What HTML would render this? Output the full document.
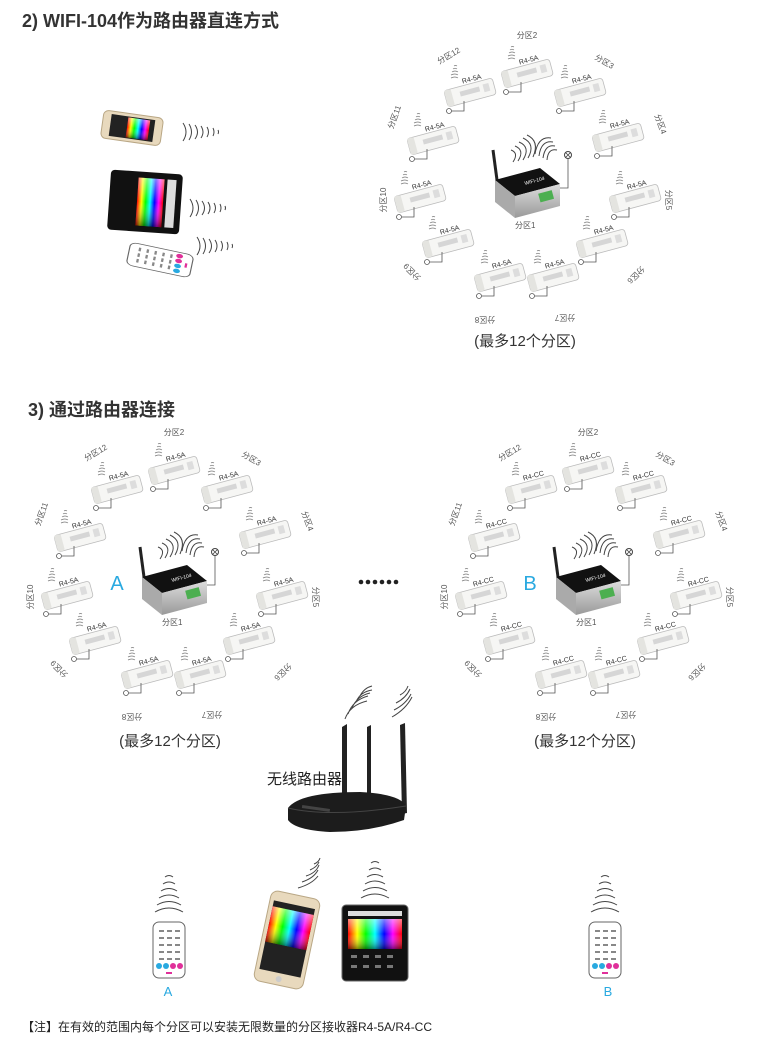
<!DOCTYPE html>
<html><head><meta charset="utf-8">
<style>
html,body{margin:0;padding:0;background:#fff;}
svg{display:block;}
text{font-family:"Liberation Sans","Noto Sans CJK SC",sans-serif;fill:#444;}
.t{font-size:8px;fill:#555;}
.m{font-size:7px;fill:#333;}
.w{fill:none;stroke:#444;stroke-width:1;}
</style></head><body>
<svg width="760" height="1044" viewBox="0 0 760 1044" xmlns="http://www.w3.org/2000/svg">
<defs>
<linearGradient id="hue" x1="0" y1="0" x2="1" y2="0">
<stop offset="0" stop-color="#f00"/><stop offset=".17" stop-color="#ff0"/><stop offset=".33" stop-color="#0f0"/><stop offset=".5" stop-color="#0ff"/><stop offset=".67" stop-color="#00f"/><stop offset=".83" stop-color="#f0f"/><stop offset="1" stop-color="#f00"/>
</linearGradient>
<linearGradient id="shade" x1="0" y1="0" x2="0" y2="1">
<stop offset="0" stop-color="#fff" stop-opacity=".5"/><stop offset=".5" stop-color="#fff" stop-opacity="0"/><stop offset="1" stop-color="#000" stop-opacity=".5"/>
</linearGradient>
<linearGradient id="metal" x1="0" y1="0" x2="0" y2="1">
<stop offset="0" stop-color="#ddd"/><stop offset="1" stop-color="#999"/>
</linearGradient>
<g id="mod">
<g transform="rotate(-15)">
<rect x="-25" y="-8" width="50" height="17" rx="3" fill="#f6f6f4" stroke="#bbb" stroke-width=".8"/>
<rect x="-25" y="-8" width="7" height="17" rx="2" fill="#e4e4e0"/>
<rect x="-10" y="-3" width="20" height="5" fill="#d6d6d6"/>
<rect x="14" y="-4" width="6" height="8" fill="#ddd"/>
</g>
<path d="M-6 9 v10 h-12" fill="none" stroke="#555" stroke-width=".8"/>
<circle cx="-21" cy="19" r="2.5" fill="#fff" stroke="#555" stroke-width=".8"/>
<path d="M-19 -14 q4 -2 7 0 M-19 -17 q4 -2 7 0 M-18 -20 q3 -2 6 0 M-17 -23 q2 -1.5 4 0 M-16 -26 q1.5 -1 3 0" fill="none" stroke="#777" stroke-width=".7"/>
</g>
<g id="ctr">
<line x1="-28" y1="-8" x2="-32" y2="-38" stroke="#222" stroke-width="3"/>
<path d="M-30 -8 L15 -20 L35 -4 L-10 8 Z" fill="#111"/>
<path d="M-30 -8 L-10 8 L-10 30 L-30 14 Z" fill="#aaa"/>
<path d="M-10 8 L35 -4 L35 18 L-10 30 Z" fill="url(#metal)"/>
<rect x="14" y="4" width="14" height="9" fill="#4caf50" transform="rotate(-15 20 8)"/>
<text x="0" y="-3" style="font-size:5px;fill:#fff" transform="rotate(-15 0 -3)">WIFI-104</text>
<path d="M35 0 h8 v-30" fill="none" stroke="#555" stroke-width=".8"/>
<circle cx="43" cy="-33" r="3.5" fill="#fff" stroke="#444"/>
<path d="M40.5 -35.5 l5 5 M45.5 -35.5 l-5 5" stroke="#444" stroke-width=".8"/>
<path d="M-14 -38 q8 3 2 12 M-10 -42 q10 4 3 15 M-6 -46 q12 5 4 18 M-2 -50 q13 6 5 20 M2 -53 q13 6 6 22" class="w"/>
<path d="M30 -42 q-10 -2 -12 12 M32 -38 q-9 -2 -10 10 M28 -46 q-12 -2 -14 14 M26 -50 q-13 -2 -16 16" class="w"/>
</g>
<g id="rem">
<rect x="-16" y="-28" width="32" height="56" rx="6" fill="#fff" stroke="#666"/>
<g fill="#888">
<rect x="-10" y="-20" width="5" height="2"/><rect x="-2" y="-20" width="5" height="2"/><rect x="6" y="-20" width="5" height="2"/>
<rect x="-10" y="-13" width="5" height="2"/><rect x="-2" y="-13" width="5" height="2"/><rect x="6" y="-13" width="5" height="2"/>
<rect x="-10" y="-6" width="5" height="2"/><rect x="-2" y="-6" width="5" height="2"/><rect x="6" y="-6" width="5" height="2"/>
<rect x="-10" y="1" width="5" height="2"/><rect x="-2" y="1" width="5" height="2"/><rect x="6" y="1" width="5" height="2"/>
<rect x="-10" y="8" width="5" height="2"/><rect x="-2" y="8" width="5" height="2"/><rect x="6" y="8" width="5" height="2"/>
</g>
<circle cx="-10" cy="16" r="3" fill="#29a9e0"/><circle cx="-3" cy="16" r="3" fill="#29a9e0"/><circle cx="4" cy="16" r="3" fill="#e0309a"/><circle cx="11" cy="16" r="3" fill="#e0309a"/>
<rect x="-3" y="22" width="6" height="2" fill="#e0309a"/>
</g>
<g id="vw">
<path d="M-14 0 q14 -8 28 0 M-12 -7 q12 -7 24 0 M-10 -14 q10 -6 20 0 M-8 -21 q8 -5 16 0 M-6 -28 q6 -4 12 0 M-4 -35 q4 -3 8 0" class="w" stroke-width="1.2"/>
</g>
<g id="hw">
<path d="M0 -9 q6 9 0 18 M6 -8 q5 8 0 16 M12 -7 q5 7 0 14 M18 -6 q4 6 0 12 M24 -5 q3 5 0 10 M30 -4 q2 4 0 8 M35 -2 q1 2 0 4" class="w" stroke-width="1.3"/>
</g>
</defs>

<text x="22" y="27" style="font-size:18px;font-weight:bold;fill:#333">2) WIFI-104作为路由器直连方式</text>

<!-- left devices -->
<g transform="translate(132,128) rotate(8)">
<rect x="-30" y="-14" width="60" height="28" rx="5" fill="#e8d9bd" stroke="#b9a785"/>
<rect x="-22" y="-11" width="44" height="22" fill="#222"/>
<rect x="-5" y="-10" width="22" height="20" fill="url(#hue)"/><rect x="-5" y="-10" width="22" height="20" fill="url(#shade)"/>
</g>
<use href="#hw" x="183" y="132"/>
<g transform="translate(145,202) rotate(4)">
<rect x="-36" y="-30" width="72" height="60" rx="4" fill="#111"/>
<rect x="-8" y="-24" width="26" height="48" fill="url(#hue)"/><rect x="-8" y="-24" width="26" height="48" fill="url(#shade)"/>
<rect x="21" y="-24" width="9" height="48" fill="#ddd"/>
</g>
<use href="#hw" x="190" y="208"/>
<g transform="translate(160,260) rotate(-78)"><use href="#rem" transform="scale(0.72,1.15)"/></g>
<use href="#hw" x="197" y="246"/>

<!-- Ring 1 -->
<g transform="translate(525,188)">
<use href="#ctr"/>
<text x="-10" y="40" class="t">分区1</text>
<g transform="translate(2,-115)"><use href="#mod"/><text x="-5" y="-10" class="m" transform="rotate(-15)">R4-5A</text></g>
<g transform="translate(-55,-96)"><use href="#mod"/><text x="-5" y="-10" class="m" transform="rotate(-15)">R4-5A</text></g>
<g transform="translate(55,-96)"><use href="#mod"/><text x="-5" y="-10" class="m" transform="rotate(-15)">R4-5A</text></g>
<g transform="translate(-92,-48)"><use href="#mod"/><text x="-5" y="-10" class="m" transform="rotate(-15)">R4-5A</text></g>
<g transform="translate(93,-51)"><use href="#mod"/><text x="-5" y="-10" class="m" transform="rotate(-15)">R4-5A</text></g>
<g transform="translate(-105,10)"><use href="#mod"/><text x="-5" y="-10" class="m" transform="rotate(-15)">R4-5A</text></g>
<g transform="translate(110,10)"><use href="#mod"/><text x="-5" y="-10" class="m" transform="rotate(-15)">R4-5A</text></g>
<g transform="translate(-77,55)"><use href="#mod"/><text x="-5" y="-10" class="m" transform="rotate(-15)">R4-5A</text></g>
<g transform="translate(77,55)"><use href="#mod"/><text x="-5" y="-10" class="m" transform="rotate(-15)">R4-5A</text></g>
<g transform="translate(-25,89)"><use href="#mod"/><text x="-5" y="-10" class="m" transform="rotate(-15)">R4-5A</text></g>
<g transform="translate(28,89)"><use href="#mod"/><text x="-5" y="-10" class="m" transform="rotate(-15)">R4-5A</text></g>
<g text-anchor="middle" class="t">
<text class="t" transform="translate(2,-150)">分区2</text>
<text class="t" transform="translate(-75,-130) rotate(-30)">分区12</text>
<text class="t" transform="translate(78,-124) rotate(30)">分区3</text>
<text class="t" transform="translate(-128,-70) rotate(-70)">分区11</text>
<text class="t" transform="translate(133,-63) rotate(70)">分区4</text>
<text class="t" transform="translate(-139,12) rotate(-90)">分区10</text>
<text class="t" transform="translate(141,12) rotate(90)">分区5</text>
<text class="t" transform="translate(-111,82) rotate(-135)">分区9</text>
<text class="t" transform="translate(109,85) rotate(135)">分区6</text>
<text class="t" transform="translate(-40,129) rotate(180)">分区8</text>
<text class="t" transform="translate(40,127) rotate(180)">分区7</text>
</g>
</g>
<text x="525" y="346" text-anchor="middle" style="font-size:15px;fill:#333">(最多12个分区)</text>

<text x="28" y="416" style="font-size:18px;font-weight:bold;fill:#333">3) 通过路由器连接</text>

<!-- Ring A -->
<g transform="translate(172,585)">
<use href="#ctr"/>
<text x="-10" y="40" class="t">分区1</text>
<g transform="translate(2,-115)"><use href="#mod"/><text x="-5" y="-10" class="m" transform="rotate(-15)">R4-5A</text></g>
<g transform="translate(-55,-96)"><use href="#mod"/><text x="-5" y="-10" class="m" transform="rotate(-15)">R4-5A</text></g>
<g transform="translate(55,-96)"><use href="#mod"/><text x="-5" y="-10" class="m" transform="rotate(-15)">R4-5A</text></g>
<g transform="translate(-92,-48)"><use href="#mod"/><text x="-5" y="-10" class="m" transform="rotate(-15)">R4-5A</text></g>
<g transform="translate(93,-51)"><use href="#mod"/><text x="-5" y="-10" class="m" transform="rotate(-15)">R4-5A</text></g>
<g transform="translate(-105,10)"><use href="#mod"/><text x="-5" y="-10" class="m" transform="rotate(-15)">R4-5A</text></g>
<g transform="translate(110,10)"><use href="#mod"/><text x="-5" y="-10" class="m" transform="rotate(-15)">R4-5A</text></g>
<g transform="translate(-77,55)"><use href="#mod"/><text x="-5" y="-10" class="m" transform="rotate(-15)">R4-5A</text></g>
<g transform="translate(77,55)"><use href="#mod"/><text x="-5" y="-10" class="m" transform="rotate(-15)">R4-5A</text></g>
<g transform="translate(-25,89)"><use href="#mod"/><text x="-5" y="-10" class="m" transform="rotate(-15)">R4-5A</text></g>
<g transform="translate(28,89)"><use href="#mod"/><text x="-5" y="-10" class="m" transform="rotate(-15)">R4-5A</text></g>
<g text-anchor="middle">
<text class="t" transform="translate(2,-150)">分区2</text>
<text class="t" transform="translate(-75,-130) rotate(-30)">分区12</text>
<text class="t" transform="translate(78,-124) rotate(30)">分区3</text>
<text class="t" transform="translate(-128,-70) rotate(-70)">分区11</text>
<text class="t" transform="translate(133,-63) rotate(70)">分区4</text>
<text class="t" transform="translate(-139,12) rotate(-90)">分区10</text>
<text class="t" transform="translate(141,12) rotate(90)">分区5</text>
<text class="t" transform="translate(-111,82) rotate(-135)">分区9</text>
<text class="t" transform="translate(109,85) rotate(135)">分区6</text>
<text class="t" transform="translate(-40,129) rotate(180)">分区8</text>
<text class="t" transform="translate(40,127) rotate(180)">分区7</text>
</g>
</g>
<text x="117" y="590" text-anchor="middle" style="font-size:20px;fill:#29a9e0">A</text>
<text x="170" y="746" text-anchor="middle" style="font-size:15px;fill:#333">(最多12个分区)</text>

<!-- dots -->
<g fill="#222"><circle cx="361" cy="582" r="2.3"/><circle cx="368" cy="582" r="2.3"/><circle cx="375" cy="582" r="2.3"/><circle cx="382" cy="582" r="2.3"/><circle cx="389" cy="582" r="2.3"/><circle cx="396" cy="582" r="2.3"/></g>

<!-- Ring B -->
<g transform="translate(586,585)">
<use href="#ctr"/>
<text x="-10" y="40" class="t">分区1</text>
<g transform="translate(2,-115)"><use href="#mod"/><text x="-5" y="-10" class="m" transform="rotate(-15)">R4-CC</text></g>
<g transform="translate(-55,-96)"><use href="#mod"/><text x="-5" y="-10" class="m" transform="rotate(-15)">R4-CC</text></g>
<g transform="translate(55,-96)"><use href="#mod"/><text x="-5" y="-10" class="m" transform="rotate(-15)">R4-CC</text></g>
<g transform="translate(-92,-48)"><use href="#mod"/><text x="-5" y="-10" class="m" transform="rotate(-15)">R4-CC</text></g>
<g transform="translate(93,-51)"><use href="#mod"/><text x="-5" y="-10" class="m" transform="rotate(-15)">R4-CC</text></g>
<g transform="translate(-105,10)"><use href="#mod"/><text x="-5" y="-10" class="m" transform="rotate(-15)">R4-CC</text></g>
<g transform="translate(110,10)"><use href="#mod"/><text x="-5" y="-10" class="m" transform="rotate(-15)">R4-CC</text></g>
<g transform="translate(-77,55)"><use href="#mod"/><text x="-5" y="-10" class="m" transform="rotate(-15)">R4-CC</text></g>
<g transform="translate(77,55)"><use href="#mod"/><text x="-5" y="-10" class="m" transform="rotate(-15)">R4-CC</text></g>
<g transform="translate(-25,89)"><use href="#mod"/><text x="-5" y="-10" class="m" transform="rotate(-15)">R4-CC</text></g>
<g transform="translate(28,89)"><use href="#mod"/><text x="-5" y="-10" class="m" transform="rotate(-15)">R4-CC</text></g>
<g text-anchor="middle">
<text class="t" transform="translate(2,-150)">分区2</text>
<text class="t" transform="translate(-75,-130) rotate(-30)">分区12</text>
<text class="t" transform="translate(78,-124) rotate(30)">分区3</text>
<text class="t" transform="translate(-128,-70) rotate(-70)">分区11</text>
<text class="t" transform="translate(133,-63) rotate(70)">分区4</text>
<text class="t" transform="translate(-139,12) rotate(-90)">分区10</text>
<text class="t" transform="translate(141,12) rotate(90)">分区5</text>
<text class="t" transform="translate(-111,82) rotate(-135)">分区9</text>
<text class="t" transform="translate(109,85) rotate(135)">分区6</text>
<text class="t" transform="translate(-40,129) rotate(180)">分区8</text>
<text class="t" transform="translate(40,127) rotate(180)">分区7</text>
</g>
</g>
<text x="530" y="590" text-anchor="middle" style="font-size:20px;fill:#29a9e0">B</text>
<text x="585" y="746" text-anchor="middle" style="font-size:15px;fill:#333">(最多12个分区)</text>

<!-- router -->
<g>
<path d="M342 727 l5 -3 l0 78 l-5 1 Z" fill="#222"/>
<path d="M367 727 l4 -2 l0 76 l-4 1 Z" fill="#222"/>
<path d="M400 725 l5 -2 l2 90 l-5 1 Z" fill="#222"/>
<path d="M288 808 Q300 792 360 792 Q400 794 406 806 L404 820 Q370 832 330 832 Q295 830 288 820 Z" fill="#1c1c1c"/>
<path d="M288 808 Q330 818 406 806" fill="none" stroke="#444"/>
<rect x="302" y="807" width="28" height="3" fill="#444" transform="rotate(8 316 808)"/>
<path d="M345 719 q5 -14 22 -18 M348 714 q5 -14 20 -18 M352 708 q5 -12 18 -15 M356 702 q4 -10 16 -12 M360 696 q4 -8 12 -10" class="w" stroke-width="1.4"/>
<path d="M392 717 q14 -8 20 -20 M394 710 q12 -6 17 -16 M396 703 q10 -5 14 -14 M400 695 q6 -3 8 -9" class="w" stroke-width="1.4"/>
</g>
<text x="267" y="784" style="font-size:15px;fill:#222">无线路由器</text>

<!-- bottom devices -->
<use href="#vw" x="169" y="912"/>
<use href="#rem" x="169" y="950"/>
<text x="168" y="996" text-anchor="middle" style="font-size:13px;fill:#29a9e0">A</text>

<g transform="translate(287,940) rotate(12)">
<rect x="-25" y="-46" width="50" height="92" rx="7" fill="#e8d9bd" stroke="#b9a785"/>
<rect x="-21" y="-36" width="42" height="70" fill="#222"/>
<rect x="-21" y="-30" width="42" height="36" fill="url(#hue)"/><rect x="-21" y="-30" width="42" height="36" fill="url(#shade)"/>
<circle cx="0" cy="40" r="3" fill="#ccc"/>
</g>
<path d="M298 888 q14 -4 20 -12 M302 882 q12 -4 16 -12 M306 876 q10 -3 13 -11 M310 870 q7 -3 9 -8 M314 864 q5 -2 6 -6" class="w" stroke-width="1.4"/>

<g transform="translate(375,943)">
<rect x="-33" y="-38" width="66" height="76" rx="4" fill="#111" stroke="#666"/>
<rect x="-27" y="-24" width="54" height="30" fill="url(#hue)"/><rect x="-27" y="-24" width="54" height="30" fill="url(#shade)"/>
<rect x="-27" y="-32" width="54" height="5" fill="#ddd"/>
<g fill="#777"><rect x="-24" y="12" width="6" height="3"/><rect x="-12" y="12" width="6" height="3"/><rect x="0" y="12" width="6" height="3"/><rect x="12" y="12" width="6" height="3"/><rect x="-24" y="22" width="6" height="3"/><rect x="-12" y="22" width="6" height="3"/><rect x="0" y="22" width="6" height="3"/><rect x="12" y="22" width="6" height="3"/></g>
</g>
<use href="#vw" x="375" y="898"/>

<use href="#vw" x="605" y="912"/>
<use href="#rem" x="605" y="950"/>
<text x="608" y="996" text-anchor="middle" style="font-size:13px;fill:#29a9e0">B</text>

<text x="22" y="1031" style="font-size:12px;fill:#222">【注】在有效的范围内每个分区可以安装无限数量的分区接收器R4-5A/R4-CC</text>
</svg>
</body></html>
